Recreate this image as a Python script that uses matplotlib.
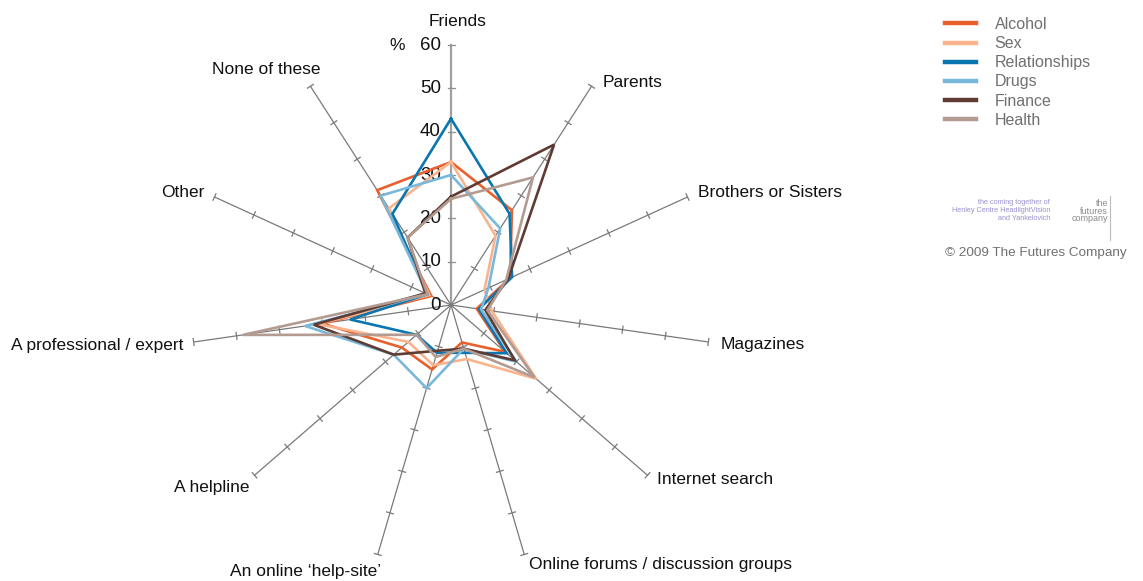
import numpy as np
import matplotlib
matplotlib.use("Agg")
import matplotlib.pyplot as plt
from matplotlib.lines import Line2D

plt.rcParams['font.family'] = ['Liberation Sans', 'DejaVu Sans']

categories = ["Friends", "Parents", "Brothers or Sisters", "Magazines", "Internet search",
              "Online forums / discussion groups", "An online \u2018help-site\u2019", "A helpline",
              "A professional / expert", "Other", "None of these"]

alcohol = [33, 26, 15, 6, 16.5, 9, 15.5, 15, 30, 5, 31.5]
sex = [33, 19, 8.5, 9.5, 26, 13, 14.5, 13, 31, 5.5, 26.5]
relationships = [43, 25, 15.5, 6.5, 17, 11.5, 11.5, 10.5, 23.5, 6, 25]
drugs = [30, 21, 9.5, 7, 20, 10.5, 20, 17.5, 34, 6, 30]
finance = [25, 44, 14.5, 8, 19.5, 10.5, 11, 17.5, 32, 6.5, 18.5]
health = [24.5, 35, 14, 8.5, 25.5, 10.5, 12.5, 10.5, 48.5, 6, 18.5]

series_names = ["Alcohol", "Sex", "Relationships", "Drugs", "Finance", "Health"]
series_colors = ["#E8602C", "#F9B48E", "#0A76B0", "#79B8DA", "#5E3B33", "#B39B91"]
ticks = [0, 10, 20, 30, 40, 50, 60]

# pixel scale: 60 units = 260 px, centre at (451, 305)
S = 260 / 60
cx, cy = 451, 305
W, H = 1143, 581

fig = plt.figure(figsize=(W / 100, H / 100), dpi=100)
ax = fig.add_axes([0, 0, 1, 1])
ax.set_xlim(-cx / S, (W - cx) / S)
ax.set_ylim(-(H - cy) / S, cy / S)
ax.axis('off')

n = len(categories)
angles = np.deg2rad(90 - np.arange(n) * 360 / n)
cosa, sina = np.cos(angles), np.sin(angles)
rmax = ticks[-1]

# spokes with tick marks
h = 3.5 / S
for i in range(n):
    if i == 0:
        ax.plot([0, 0], [0, rmax], color="#a0a0a0", lw=1.6, zorder=1)
    else:
        ax.plot([0, rmax * cosa[i]], [0, rmax * sina[i]], color="#7a7a7a", lw=0.9, zorder=1)
    for t in ticks[1:]:
        px, py = t * cosa[i], t * sina[i]
        nx, ny = -sina[i], cosa[i]
        ax.plot([px - h * nx, px + h * nx], [py - h * ny, py + h * ny],
                color="#7a7a7a" if i else "#909090", lw=0.9, zorder=1)

# radial tick labels on the Friends spoke
for t in ticks:
    ax.text(-10 / S, t, str(t), ha='right', va='center', fontsize=13.5, color="#111111", zorder=2)
ax.text((397 - cx) / S, rmax, "%", ha='center', va='center', fontsize=12.5, color="#111111")

# series
data = [alcohol, sex, relationships, drugs, finance, health]
for vals, c in zip(data, series_colors):
    v = np.array(vals + vals[:1])
    xs = v * np.append(cosa, cosa[0])
    ys = v * np.append(sina, sina[0])
    ax.plot(xs, ys, color=c, lw=1.9, zorder=3, solid_joinstyle='miter')

# category labels
label_pos = [
    (7, 23, 'center'), (11, 4, 'left'), (10, 4, 'left'), (12, -2, 'left'),
    (10, -4, 'left'), (5, -10, 'left'), (3, -17, 'right'), (-5, -12, 'right'),
    (-10, -3, 'right'), (-10, 4, 'right'), (10, 17, 'right'),
]
for i, (lab, (dx, dy, ha)) in enumerate(zip(categories, label_pos)):
    ax.annotate(lab, xy=(rmax * cosa[i], rmax * sina[i]), xytext=(dx, dy),
                textcoords='offset pixels', ha=ha, va='center', fontsize=12.5, color="#111111")

# legend
handles = [Line2D([], [], color=c, lw=3.2) for c in series_colors]
leg = fig.legend(handles, series_names, loc='upper left', bbox_to_anchor=(945 / W, 1 - 17 / H),
                 frameon=False, fontsize=11.5, handlelength=1.95, handletextpad=1.15,
                 labelspacing=0.26, borderaxespad=0, borderpad=0)
for t in leg.get_texts():
    t.set_color("#707070")

# logo and credit
logo_left = ["the coming together of", "Henley Centre HeadlightVision", "and Yankelovich"]
for k, s in enumerate(logo_left):
    fig.text(1050 / W, 1 - (203 + 7.5 * k) / H, s, ha='right', va='center', fontsize=5.2, color="#9a90cc")
logo_right = ["the", "futures", "company"]
for k, s in enumerate(logo_right):
    fig.text(1108 / W, 1 - (203 + 8 * k) / H, s, ha='right', va='center', fontsize=6.5, color="#8a8a8a")
fig.add_artist(Line2D([1110 / W, 1110 / W], [1 - 196 / H, 1 - 240 / H], color="#bbbbbb", lw=0.8))
fig.text(945 / W, 1 - 253 / H, "\u00a9 2009 The Futures Company", ha='left', va='center',
         fontsize=9.7, color="#707070")

fig.savefig("out.png", dpi=100)
